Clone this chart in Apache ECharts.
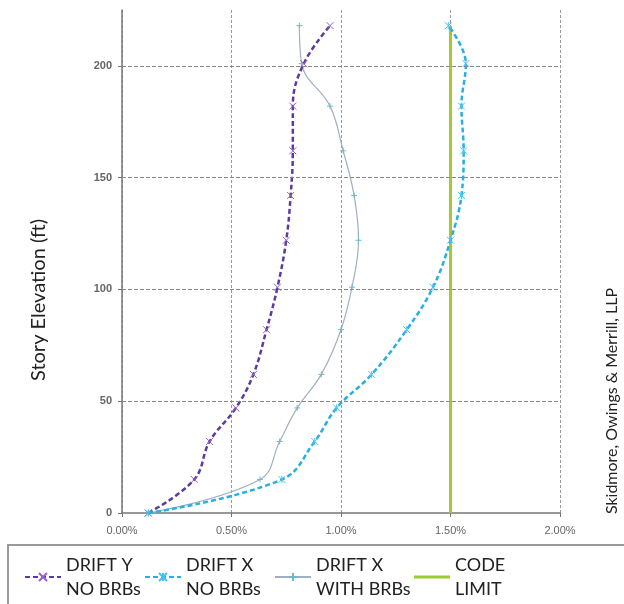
<!DOCTYPE html>
<html>
<head>
<meta charset="utf-8">
<script src="https://cdn.jsdelivr.net/npm/echarts@6/dist/echarts.min.js"></script>
<style>html,body{margin:0;padding:0;background:#fff}#c{width:624px;height:604px}</style>
</head>
<body>
<div id="c"></div>
<script>
// ---- data ----
const heights    = [0, 15, 32, 47, 62, 82, 101, 122, 142, 162, 182, 201, 218];
const driftY     = [0.12, 0.33, 0.40, 0.52, 0.60, 0.66, 0.71, 0.75, 0.77, 0.78, 0.78, 0.83, 0.95];
const driftXNo   = [0.12, 0.73, 0.88, 0.98, 1.14, 1.30, 1.42, 1.50, 1.55, 1.56, 1.55, 1.57, 1.49];
const driftXWith = [0.12, 0.63, 0.72, 0.80, 0.91, 1.00, 1.05, 1.08, 1.06, 1.01, 0.95, 0.82, 0.81];
const codeLimitX = [1.5, 1.5];
const codeLimitH = [0, 218];
const xTicks = [0, 0.5, 1.0, 1.5, 2.0];
const yGrid  = [50, 100, 150, 200];
const seriesNames = ['DRIFT Y\nNO BRBs', 'DRIFT X\nNO BRBs', 'DRIFT X\nWITH BRBs', 'CODE\nLIMIT'];
const yTitle = 'Story Elevation (ft)';
const credit = 'Skidmore, Owings & Merrill, LLP';

const pairs = (xs, ys) => xs.map((v, i) => [v, ys[i]]);
const xMark = 'path://M0,0L10,10M10,0L0,10';
const starMark = 'path://M0,0L10,10M10,0L0,10M5,0L5,10';
const plusMark = 'path://M5,0L5,10M0,5L10,5';

const chart = echarts.init(document.getElementById('c'), null, {renderer: 'canvas'});
const FONT = 'Lato, "Open Sans", sans-serif';
const legendText = {fontFamily: FONT, fontSize: 18, color: '#222', lineHeight: 24};
const legendLefts = [24, 144, 274, 414];

chart.setOption({
  animation: false,
  backgroundColor: '#fff',
  grid: {left: 122, right: 64, top: 10, bottom: 91},
  xAxis: {
    type: 'value', min: 0, max: 2, interval: 0.5,
    axisLine: {show: true, lineStyle: {color: '#777', width: 1.5}},
    axisTick: {show: true, length: 4, lineStyle: {color: '#777'}},
    axisLabel: {formatter: v => v.toFixed(2) + '%', fontSize: 11, color: '#666', margin: 12,
                fontFamily: '"Liberation Sans", sans-serif'},
    splitLine: {show: true, lineStyle: {color: '#999', type: [3, 2], width: 1}}
  },
  yAxis: {
    type: 'value', min: 0, max: 225, interval: 50,
    axisLine: {show: true, lineStyle: {color: '#777', width: 1.5}},
    axisTick: {show: true, length: 4, lineStyle: {color: '#777'}},
    axisLabel: {showMaxLabel: false, fontSize: 11, fontWeight: 'bold', color: '#666', margin: 10,
                fontFamily: '"Liberation Sans", sans-serif'},
    splitLine: {show: false}
  },
  legend: seriesNames.map((n, i) => ({
    data: i === 3 ? [{name: n, icon: 'rect'}] : [n],
    left: legendLefts[i], top: 553, itemWidth: 36, itemHeight: i === 3 ? 3 : 10, itemGap: 0,
    textStyle: legendText, padding: 0
  })),
  graphic: [
    {type: 'rect', shape: {x: 8, y: 545, width: 630, height: 70},
     style: {fill: 'none', stroke: '#9a9a9a', lineWidth: 2}, z: 0},
    {type: 'text', x: 39, y: 300, rotation: Math.PI / 2,
     style: {text: yTitle, fontSize: 20, fill: '#222',
             fontFamily: FONT, align: 'center', verticalAlign: 'middle'}},
    {type: 'text', x: 612, y: 401, rotation: Math.PI / 2,
     style: {text: credit, fontSize: 16, fill: '#222',
             fontFamily: FONT, align: 'center', verticalAlign: 'middle'}}
  ],
  series: [
    {
      name: seriesNames[0], type: 'line', smooth: 0.4,
      data: pairs(driftY, heights),
      symbol: xMark, symbolSize: 7,
      itemStyle: {color: '#9a5fd0', borderColor: '#9a5fd0', borderWidth: 1},
      lineStyle: {color: '#5b3c9e', width: 2.5, type: [5, 3]}, z: 4
    },
    {
      name: seriesNames[1], type: 'line', smooth: 0.4,
      data: pairs(driftXNo, heights),
      symbol: starMark, symbolSize: 7,
      itemStyle: {color: '#45c3f0', borderColor: '#45c3f0', borderWidth: 1},
      lineStyle: {color: '#2aaee0', width: 2.5, type: [5, 3]}, z: 4
    },
    {
      name: seriesNames[2], type: 'line', smooth: 0.4,
      data: pairs(driftXWith, heights),
      symbol: plusMark, symbolSize: 6,
      itemStyle: {color: '#6fb8c8', borderColor: '#6fb8c8', borderWidth: 1},
      lineStyle: {color: '#9fb0c4', width: 1.2}, z: 3
    },
    {
      name: seriesNames[3], type: 'line',
      data: pairs(codeLimitX, codeLimitH),
      symbol: 'none', showSymbol: false,
      itemStyle: {color: '#9ccc2f'},
      lineStyle: {color: '#a8c832', width: 3}, z: 3,
      markLine: {
        silent: true, symbol: 'none', label: {show: false},
        lineStyle: {color: '#888', type: [4, 2], width: 1},
        data: yGrid.map(v => ({yAxis: v}))
      }
    }
  ]
});
</script>
</body>
</html>
